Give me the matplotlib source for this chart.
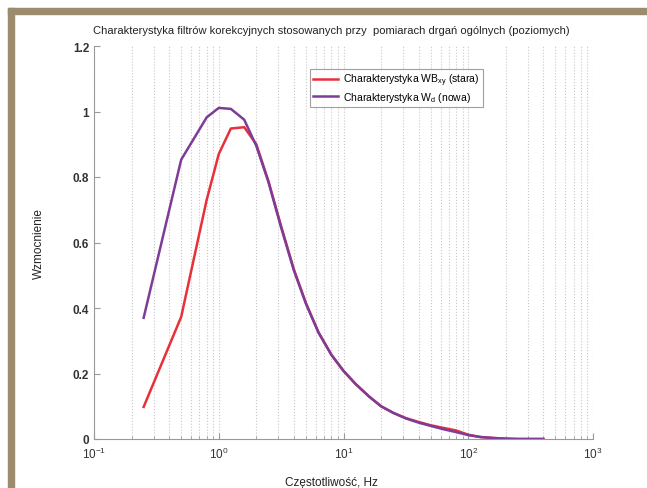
import matplotlib
matplotlib.use('Agg')
import matplotlib.pyplot as plt
from matplotlib.patches import Rectangle
from matplotlib.ticker import LogLocator, FixedLocator

freq = [0.25, 0.5, 0.8, 1.0, 1.25, 1.6, 2.0, 2.5, 3.15, 4, 5, 6.3, 8, 10, 12.5, 16,
        20, 25, 31.5, 40, 50, 63, 80, 100, 125, 160, 200, 250, 315, 400]
wd_new = [0.37, 0.853, 0.982, 1.011, 1.008, 0.975, 0.895, 0.785, 0.648, 0.515, 0.413,
          0.325, 0.257, 0.208, 0.168, 0.13, 0.10, 0.08, 0.063, 0.05, 0.04, 0.03,
          0.021, 0.012, 0.006, 0.003, 0.001, 0.0, 0.0, 0.0]
wb_old = [0.098, 0.373, 0.73, 0.87, 0.948, 0.952, 0.90, 0.788, 0.652, 0.518, 0.415,
          0.326, 0.257, 0.208, 0.168, 0.13, 0.10, 0.08, 0.064, 0.052, 0.042, 0.034,
          0.026, 0.013, 0.006, 0.003, 0.001, 0.0, 0.0, 0.0]

TITLE = 'Charakterystyka filtrów korekcyjnych stosowanych przy  pomiarach drgań ogólnych (poziomych)'
LABELS = ['Charakterystyka WB$_{\\mathregular{xy}}$ (stara)',
          'Charakterystyka W$_{\\mathregular{d}}$ (nowa)']
COLORS = ['#e8303a', '#7d3c98']

plt.rcParams['font.family'] = ['Liberation Sans', 'DejaVu Sans']

fig = plt.figure(figsize=(6.47, 4.89), dpi=100)
ax = fig.add_axes([94 / 647, 49 / 489, 499 / 647, 393 / 489])

# brown frame at top and left
frame = '#9a8c6c'
fig.patches.append(Rectangle((8 / 647, 474 / 489), 1, 6 / 489, transform=fig.transFigure,
                             color=frame, zorder=0))
fig.patches.append(Rectangle((8 / 647, 0), 6 / 647, 480 / 489, transform=fig.transFigure,
                             color=frame, zorder=0))

ax.plot(freq, wb_old, '-', color=COLORS[0], lw=1.8, label=LABELS[0])
ax.plot(freq, wd_new, '-', color=COLORS[1], lw=1.8, label=LABELS[1])

ax.set_xscale('log')
ax.set_xlim(0.1, 1000)
ax.set_ylim(0, 1.2)
ax.xaxis.set_major_locator(LogLocator(base=10, numticks=10))
ax.xaxis.set_minor_locator(LogLocator(base=10, subs=range(2, 10), numticks=100))
ax.yaxis.set_major_locator(FixedLocator([0, 0.2, 0.4, 0.6, 0.8, 1.0, 1.2]))
ax.set_yticklabels(['0', '0.2', '0.4', '0.6', '0.8', '1', '1.2'])

ax.grid(True, which='both', axis='x', color='#c8c8c8', linestyle=':', linewidth=0.8)
for s in ['top', 'right']:
    ax.spines[s].set_visible(False)
for s in ['left', 'bottom']:
    ax.spines[s].set_color('#999999')
ax.tick_params(which='both', direction='in', colors='#999999', labelcolor='#333333',
               labelsize=8.5)
ax.tick_params(axis='x', pad=5)
ax.tick_params(which='major', length=4)
ax.tick_params(which='minor', length=2)
for lab in ax.get_yticklabels():
    lab.set_fontweight('bold')

ax.set_title(TITLE, fontsize=8, color='#222222', pad=9, x=0.476)
ax.set_ylabel('Wzmocnienie', fontsize=8.5, color='#222222', labelpad=20)
ax.set_xlabel('Częstotliwość, Hz', fontsize=8.5, color='#222222', labelpad=6)
ax.xaxis.set_label_coords(0.476, -0.095)

leg = ax.legend(loc='upper left', bbox_to_anchor=(0.422, 0.955), fontsize=7.5,
                frameon=True, fancybox=False, handlelength=2.4, borderpad=0.3,
                labelspacing=0.15, handletextpad=0.5)
leg.get_frame().set_edgecolor('#888888')
leg.get_frame().set_linewidth(0.8)

fig.savefig('out.png', dpi=100)
